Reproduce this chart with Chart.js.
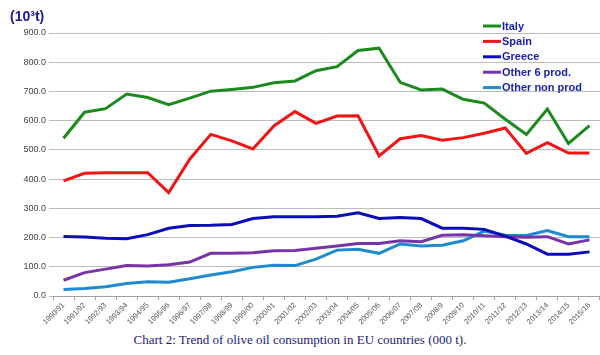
<!DOCTYPE html>
<html>
<head>
<meta charset="utf-8">
<script src="https://cdn.jsdelivr.net/npm/chart.js@4/dist/chart.umd.min.js"></script>
<style>
  html, body { margin: 0; padding: 0; background: #fff; }
  #wrap { position: relative; width: 600px; height: 355px; }
  #c { position: absolute; left: 0; top: 0; }
  #caption { position: absolute; left: 0; top: 332px; width: 600px; text-align: center;
    font-family: "Liberation Serif", "Times New Roman", serif; font-size: 13px; color: #1a1a80; }
</style>
</head>
<body>
<div id="wrap">
  <canvas id="c" width="600" height="328"></canvas>
  <div id="caption">Chart 2: Trend of olive oil consumption in EU countries (000 t).</div>
</div>
<script>
const categories = ["1990/91","1991/92","1992/93","1993/94","1994/95","1995/96","1996/97","1997/98","1998/99","1999/00","2000/01","2001/02","2002/03","2003/04","2004/05","2005/06","2006/07","2007/08","2008/9","2009/10","2010/11","2011/12","2012/13","2013/14","2014/15","2015/16"];
const italy = [540, 629, 641, 691, 679, 655, 677, 701, 707, 714, 730, 736, 771, 785, 840, 848, 731, 705, 708, 673, 660, 605, 553, 640, 522, 583];
const spain = [394, 420, 422, 422, 422, 354, 468, 553, 531, 503, 582, 631, 591, 616, 617, 479, 538, 549, 533, 542, 557, 575, 488, 525, 489, 489];
const greece = [204, 202, 198, 196, 210, 232, 241, 242, 245, 265, 271, 271, 271, 273, 285, 265, 269, 265, 232, 232, 228, 205, 178, 143, 143, 151];
const other6 = [54, 80, 92, 104, 103, 107, 116, 146, 146, 148, 155, 156, 163, 171, 180, 180, 189, 186, 208, 210, 206, 203, 201, 203, 178, 192];
const otherNon = [22, 26, 32, 43, 49, 47, 59, 72, 83, 98, 105, 104, 126, 157, 160, 146, 178, 171, 174, 189, 222, 208, 207, 224, 203, 203];
const seriesNames = ["Italy", "Spain", "Greece", "Other 6 prod.", "Other non prod"];
const yTicks = [0, 100, 200, 300, 400, 500, 600, 700, 800, 900];
const unitLabel = "(10\u00B3t)";

const colors = ["#1c8a1c", "#f01414", "#0c0cb8", "#7634a6", "#1e8ad0"];
const seriesData = [italy, spain, greece, other6, otherNon];

const datasets = seriesData.map((d, i) => ({
  label: seriesNames[i],
  data: d,
  borderColor: colors[i],
  backgroundColor: colors[i],
  borderWidth: 3,
  pointRadius: 0,
  tension: 0,
  fill: false
}));

const overlay = {
  id: 'overlay',
  afterDraw(chart) {
    const ctx = chart.ctx;
    ctx.save();
    ctx.font = 'bold 14px "Liberation Sans", Arial, sans-serif';
    ctx.fillStyle = '#1a1a9a';
    ctx.textBaseline = 'middle';
    ctx.textAlign = 'left';
    ctx.fillText(unitLabel, 10, 17);
    const x0 = 483, x1 = 501, y0 = 26, dy = 15.4;
    ctx.font = 'bold 11px "Liberation Sans", Arial, sans-serif';
    chart.data.datasets.forEach((ds, i) => {
      const y = y0 + i * dy;
      ctx.strokeStyle = ds.borderColor;
      ctx.lineWidth = 3;
      ctx.beginPath();
      ctx.moveTo(x0, y);
      ctx.lineTo(x1, y);
      ctx.stroke();
      ctx.fillStyle = '#1a22b4';
      ctx.fillText(ds.label, 502, y + 0.5);
    });
    ctx.restore();
  }
};

new Chart(document.getElementById('c'), {
  type: 'line',
  data: { labels: categories, datasets },
  options: {
    responsive: false,
    animation: false,
    layout: { padding: { top: 33, right: 0, left: 0, bottom: 0 } },
    plugins: { legend: { display: false }, tooltip: { enabled: false } },
    scales: {
      x: {
        offset: true,
        grid: { display: true, drawOnChartArea: false, drawTicks: true, tickLength: 4, color: '#a0a0a0', offset: true },
        border: { display: true, color: '#a0a0a0', width: 1 },
        ticks: {
          autoSkip: false, minRotation: 45, maxRotation: 45, padding: 1,
          color: '#555', font: { size: 7.5, family: '"Liberation Sans", Arial, sans-serif' }
        },
        afterFit(scale) { scale.height = 32; }
      },
      y: {
        min: 0, max: 900,
        afterBuildTicks(scale) { scale.ticks = yTicks.map(v => ({ value: v })); },
        grid: { color: '#bdbdbd', lineWidth: 1, drawTicks: true, tickLength: 4 },
        border: { display: false },
        ticks: {
          padding: 3,
          color: '#444', font: { size: 9, family: '"Liberation Sans", Arial, sans-serif' },
          callback: v => Number(v).toFixed(1)
        },
        afterFit(scale) { scale.width = 53; }
      }
    }
  },
  plugins: [overlay]
});
</script>
</body>
</html>
